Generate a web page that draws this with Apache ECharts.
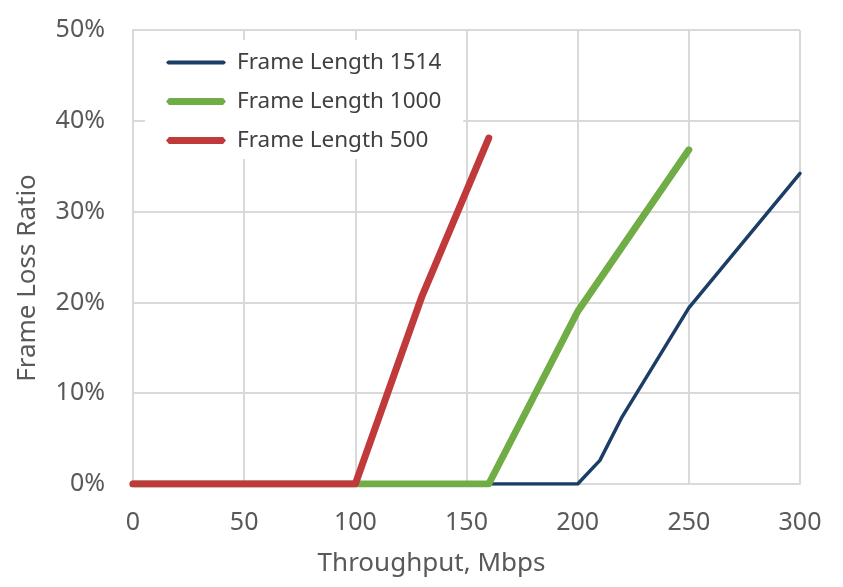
<!DOCTYPE html>
<html><head><meta charset="utf-8">
<script src="https://cdn.jsdelivr.net/npm/echarts@6/dist/echarts.min.js"></script>
<style>html,body{margin:0;padding:0;background:#fff}#c{width:843px;height:587px}</style>
</head><body><div id="c"></div>
<script>
var seriesNames = ['Frame Length 1514', 'Frame Length 1000', 'Frame Length 500'];
var x1514 = [0, 200, 210, 220, 250, 300];
var y1514 = [0, 0, 0.026, 0.074, 0.194, 0.342];
var x1000 = [0, 160, 200, 250];
var y1000 = [0, 0, 0.19, 0.368];
var x500 = [0, 100, 130, 160];
var y500 = [0, 0, 0.207, 0.381];
var xTicks = [0, 50, 100, 150, 200, 250, 300];

function pairs(xs, ys) { return xs.map(function (x, i) { return [x, ys[i]]; }); }

var font = 'Noto Sans';
var colors = ['#1B3D66', '#70AD47', '#C0393B'];
var thinIcon = 'path://M0,0L0.01,0M2,5L58,5L60,7L58,9L2,9L0,7ZM0,14L0.01,14';
var thickIcon = 'path://M0,0L0.01,0M3,3.5L57,3.5L60,7L57,10.5L3,10.5L0,7ZM0,14L0.01,14';

var chart = echarts.init(document.getElementById('c'), null, {renderer: 'canvas'});
chart.setOption({
  animation: false,
  backgroundColor: '#fff',
  grid: {left: 133, right: 43, top: 30, bottom: 103},
  legend: {
    orient: 'vertical', left: 145, top: 40,
    padding: [11, 22, 7, 21],
    backgroundColor: '#fff',
    itemWidth: 60, itemHeight: 14, itemGap: 16,
    textStyle: {fontFamily: font, fontSize: 22.5, lineHeight: 22, color: '#404040', padding: [0, 0, 0, 6]},
    data: [
      {name: seriesNames[0], icon: thinIcon, itemStyle: {color: colors[0]}},
      {name: seriesNames[1], icon: thickIcon, itemStyle: {color: colors[1]}},
      {name: seriesNames[2], icon: thickIcon, itemStyle: {color: colors[2]}}
    ]
  },
  xAxis: {
    type: 'value', min: 0, max: 300, interval: 50,
    name: 'Throughput, Mbps', nameLocation: 'middle', nameGap: 67,
    nameTextStyle: {fontFamily: font, fontSize: 26, color: '#595959', padding: [0, 70, 0, 0]},
    axisLine: {show: true, lineStyle: {color: '#D9D9D9', width: 2}},
    axisTick: {show: false},
    axisLabel: {fontFamily: font, fontSize: 25, color: '#595959', margin: 26,
      formatter: function (v) { return xTicks.indexOf(v) >= 0 ? String(v) : ''; }},
    splitLine: {show: true, lineStyle: {color: '#D9D9D9', width: 2}}
  },
  yAxis: {
    type: 'value', min: 0, max: 0.5, interval: 0.1,
    name: 'Frame Loss Ratio', nameLocation: 'middle', nameGap: 92,
    nameTextStyle: {fontFamily: font, fontSize: 26, color: '#595959', padding: [0, 42, 0, 0]},
    axisLine: {show: true, lineStyle: {color: '#D9D9D9', width: 2}},
    axisTick: {show: false},
    axisLabel: {fontFamily: font, fontSize: 25, color: '#595959', margin: 28,
      formatter: function (v) { return Math.round(v * 100) + '%'; }},
    splitLine: {show: true, lineStyle: {color: '#D9D9D9', width: 2}}
  },
  series: [
    {name: seriesNames[0], type: 'line', data: pairs(x1514, y1514), showSymbol: false, symbol: 'none',
      color: colors[0], lineStyle: {width: 3.5, color: colors[0], cap: 'round', join: 'round'}, z: 1},
    {name: seriesNames[1], type: 'line', data: pairs(x1000, y1000), showSymbol: false, symbol: 'none',
      color: colors[1], lineStyle: {width: 7, color: colors[1], cap: 'round', join: 'round'}, z: 2},
    {name: seriesNames[2], type: 'line', data: pairs(x500, y500), showSymbol: false, symbol: 'none',
      color: colors[2], lineStyle: {width: 7, color: colors[2], cap: 'round', join: 'round'}, z: 3}
  ]
});
</script></body></html>
